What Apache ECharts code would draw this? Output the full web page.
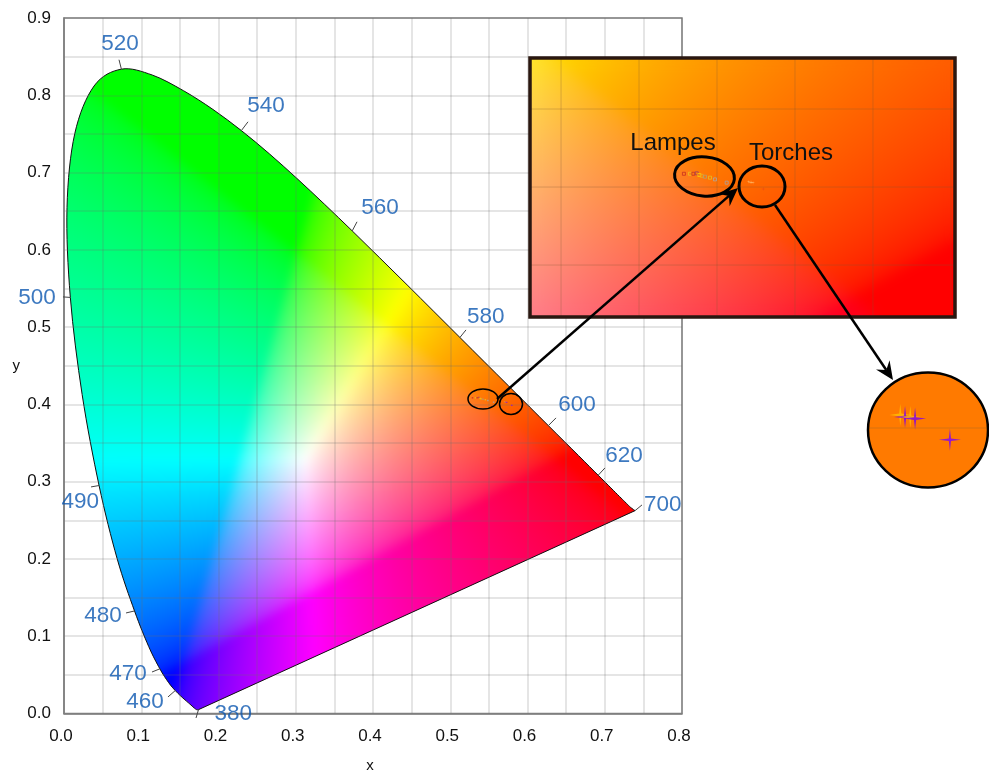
<!DOCTYPE html>
<html><head><meta charset="utf-8">
<style>html,body{margin:0;padding:0;background:#fff}#c{width:989px;height:774px}</style>
<script src="https://cdn.jsdelivr.net/npm/echarts@6/dist/echarts.min.js"></script>
</head><body><div id="c"></div>
<script>
// CIE 1931 spectral locus read as (nm, x, y)
const locusNm=[380,385,390,395,400,405,410,415,420,425,430,435,440,445,450,455,460,465,470,475,480,485,490,495,500,505,510,515,520,525,530,535,540,545,550,555,560,565,570,575,580,585,590,595,600,605,610,615,620,625,630,635,640,645,650,655,660,665,670,680,690,700];
const locusX=[.1741,.1740,.1738,.1736,.1733,.1730,.1726,.1721,.1714,.1703,.1689,.1669,.1644,.1611,.1566,.1510,.1440,.1355,.1241,.1096,.0913,.0687,.0454,.0235,.0082,.0039,.0139,.0389,.0743,.1142,.1547,.1929,.2296,.2658,.3016,.3373,.3731,.4087,.4441,.4788,.5125,.5448,.5752,.6029,.6270,.6482,.6658,.6801,.6915,.7006,.7079,.7140,.7190,.7230,.7260,.7283,.7300,.7311,.7325,.7350,.7370,.7392];
const locusY=[.0050,.0050,.0049,.0049,.0048,.0048,.0048,.0048,.0051,.0058,.0069,.0086,.0109,.0138,.0177,.0227,.0297,.0399,.0578,.0868,.1327,.2007,.2950,.4127,.5384,.6548,.7502,.8120,.8338,.8262,.8059,.7816,.7543,.7243,.6923,.6589,.6245,.5896,.5547,.5202,.4866,.4544,.4242,.3965,.3725,.3514,.3340,.3197,.3083,.2993,.2920,.2859,.2809,.2770,.2740,.2717,.2700,.2689,.2675,.2655,.2640,.2625];
// wavelength annotations
const waveNm=[520,540,560,580,600,620,700,380,460,470,480,490,500];
const waveLabelX=[.0725,.2615,.409,.546,.664,.725,.775,.219,.105,.083,.0505,.021,-.035];
const waveLabelY=[.866,.786,.654,.513,.399,.333,.270,-.001,.015,.051,.127,.274,.538];
const waveTickX=[.0712,.2382,.3793,.5204,.6369,.7003,.7482,.1709,.1346,.1139,.0803,.035,-.0013];
const waveTickY=[.846,.7657,.6363,.4964,.3825,.3178,.2699,-.0058,.0214,.0537,.1301,.2932,.5391];
// measured chromaticities
const lampesX=[.5288,.5327,.5348,.537,.5387,.5402,.5423,.5455,.5487,.5562];
const lampesY=[.4085,.4085,.4085,.4088,.4077,.4072,.4066,.406,.4049,.4028];
const lampesColor=['#c83020','#e8c020','#c83020','#a04060','#ffd000','#e8b020','#b0a070','#e8c020','#a8a8a8','#a8a0a0'];
const torchesX=[.5703,.5712,.5722,.5731,.5797];
const torchesY=[.4034,.4030,.4030,.4027,.3987];
const torchesColor=['#ffc000','#7a00f0','#ffc000','#7a00f0','#7a00ff'];
const xTicks=[0,.8], yTicks=[0,.9];
const insetGridX=[.45,.5,.55,.6,.65,.7], insetGridY=[.35,.4,.45];
const insetX=[.4301,.7026], insetY=[.3167,.4827];
const zoomX=[.5640,.5871], zoomY=[.3896,.4115];

function chroma(x,y){
  if(y<=0.0005) y=0.0005;
  const X=x/y, Z=(1-x-y)/y;
  let r=3.2406*X-1.5372-.4986*Z, g=-.9689*X+1.8758+.0415*Z, b=.0557*X-.2040+1.0570*Z;
  r=Math.max(r,0); g=Math.max(g,0); b=Math.max(b,0);
  const m=Math.max(r,g,b,1e-6);
  const f=c=>255*Math.pow(c/m,1/2);
  return [f(r),f(g),f(b)];
}
function field(xr,yr,w,h,blur){
  const cv=document.createElement('canvas');cv.width=w;cv.height=h;
  const ctx=cv.getContext('2d'),im=ctx.createImageData(w,h);
  for(let j=0;j<h;j++)for(let i=0;i<w;i++){
    const c=chroma(xr[0]+(i+.5)/w*(xr[1]-xr[0]),yr[1]-(j+.5)/h*(yr[1]-yr[0]));
    const k=(j*w+i)*4;im.data[k]=c[0];im.data[k+1]=c[1];im.data[k+2]=c[2];im.data[k+3]=255;
  }
  ctx.putImageData(im,0,0);
  const out=document.createElement('canvas');out.width=w;out.height=h;
  const o=out.getContext('2d');o.drawImage(cv,0,0);o.filter='blur('+blur+'px)';o.drawImage(cv,0,0);
  return out;
}
const mainField=field(xTicks,yTicks,620,700,4), insetField=field(insetX,insetY,425,259,6);
const locusPts=locusNm.map((n,i)=>[locusX[i],locusY[i]]);
const waveIdx=waveNm.map(n=>locusNm.indexOf(n));
const F='"Liberation Sans",Arial,sans-serif';
const GRID='rgba(110,110,110,.24)';

function locusPath(p){ // smooth curve through the tabulated points, closed by the purple line
  let d='M'+p[0][0]+' '+p[0][1];
  for(let i=0;i<p.length-1;i++){
    const a=p[Math.max(i-1,0)],b=p[i],c=p[i+1],e=p[Math.min(i+2,p.length-1)];
    d+='C'+(b[0]+(c[0]-a[0])/6)+' '+(b[1]+(c[1]-a[1])/6)+' '+(c[0]-(e[0]-b[0])/6)+' '+(c[1]-(e[1]-b[1])/6)+' '+c[0]+' '+c[1];
  }
  return d+'Z';
}
function imageSeries(name,cv,xr,yr,xi,z,clip){
  return {type:'custom',name,coordinateSystem:'cartesian2d',xAxisIndex:xi,yAxisIndex:xi,z,silent:true,clip:false,
    data:[[xr[0],yr[0]]],
    renderItem(p,api){
      const a=api.coord([xr[0],yr[1]]),b=api.coord([xr[1],yr[0]]);
      const img={type:'image',style:{image:cv,x:a[0],y:a[1],width:b[0]-a[0],height:b[1]-a[1]}};
      if(!clip) return img;
      const d=locusPath(locusPts.map(q=>api.coord(q)));
      img.clipPath={type:'path',shape:{pathData:d}};
      return {type:'group',children:[img,
        {type:'path',shape:{pathData:d},style:{fill:'none',stroke:'#111',lineWidth:1}}]};
    }};
}
const PLUS='path://M0 -10L1 -1.2L10 0L1 1.2L0 10L-1 1.2L-10 0L-1 -1.2Z';
const series=[
  imageSeries('field',mainField,xTicks,yTicks,0,1,true),
  {type:'custom',name:'wave ticks',coordinateSystem:'cartesian2d',xAxisIndex:0,yAxisIndex:0,z:3,clip:false,silent:true,
    data:waveNm.map((n,i)=>[waveTickX[i],waveTickY[i],locusX[waveIdx[i]],locusY[waveIdx[i]]]),
    renderItem(p,api){const a=api.coord([api.value(0),api.value(1)]),b=api.coord([api.value(2),api.value(3)]);
      return {type:'line',shape:{x1:a[0],y1:a[1],x2:b[0],y2:b[1]},style:{stroke:'#444',lineWidth:1}};}},
  {type:'scatter',name:'wave labels',xAxisIndex:0,yAxisIndex:0,z:4,clip:false,silent:true,symbolSize:0,
    data:waveNm.map((n,i)=>({value:[waveLabelX[i],waveLabelY[i]],name:String(n)})),
    label:{show:true,position:'inside',formatter:'{b}',color:'#0c58b0',fontSize:22.5,fontFamily:F}},
  {type:'scatter',name:'Lampes',xAxisIndex:0,yAxisIndex:0,z:4,silent:true,symbol:'rect',symbolSize:1.5,
    data:lampesX.map((x,i)=>({value:[x,lampesY[i]],itemStyle:{color:lampesColor[i]}}))},
  {type:'scatter',name:'Torches',xAxisIndex:0,yAxisIndex:0,z:4,silent:true,symbol:'rect',symbolSize:1.2,
    data:torchesX.map((x,i)=>({value:[x,torchesY[i]],itemStyle:{color:torchesColor[i]}}))},
  imageSeries('inset',insetField,insetX,insetY,1,5,false),
  {type:'custom',name:'inset grid',coordinateSystem:'cartesian2d',xAxisIndex:1,yAxisIndex:1,z:6,silent:true,
    data:[[insetX[0],insetY[0]]],
    renderItem(p,api){
      const kids=[];
      insetGridX.forEach(v=>{const a=api.coord([v,insetY[0]]),b=api.coord([v,insetY[1]]);
        kids.push({type:'line',shape:{x1:a[0],y1:a[1],x2:b[0],y2:b[1]},style:{stroke:'rgba(130,90,50,.3)',lineWidth:1}});});
      insetGridY.forEach(v=>{const a=api.coord([insetX[0],v]),b=api.coord([insetX[1],v]);
        kids.push({type:'line',shape:{x1:a[0],y1:a[1],x2:b[0],y2:b[1]},style:{stroke:'rgba(130,90,50,.3)',lineWidth:1}});});
      return {type:'group',children:kids};
    }},
  {type:'scatter',name:'Lampes inset',xAxisIndex:1,yAxisIndex:1,z:7,silent:true,symbol:'rect',symbolSize:3,
    data:lampesX.map((x,i)=>({value:[x,lampesY[i]],itemStyle:{color:'none',borderColor:lampesColor[i],borderWidth:1}}))},
  {type:'scatter',name:'Torches inset',xAxisIndex:1,yAxisIndex:1,z:7,silent:true,symbol:PLUS,symbolSize:4,
    data:torchesX.map((x,i)=>({value:[x,torchesY[i]],itemStyle:{color:i==4?'#d84020':'#ffd890'}}))},
  {type:'scatter',name:'Torches zoom',xAxisIndex:2,yAxisIndex:2,z:12,silent:true,symbol:PLUS,symbolSize:22,
    data:torchesX.map((x,i)=>({value:[x,torchesY[i]],itemStyle:{color:torchesColor[i]}}))}
];
const hidden=(g,r)=>({type:'value',gridIndex:g,min:r[0],max:r[1],show:false});
const black={stroke:'#000',fill:'none'};
function arrow(x1,y1,x2,y2){
  const t=Math.atan2(y2-y1,x2-x1),L=20,W=.42,s=L*.6;
  const pt=(d,a)=>[x2-d*Math.cos(t+a),y2-d*Math.sin(t+a)];
  return [
    {type:'line',z:11,shape:{x1,y1,x2:x2-s*Math.cos(t),y2:y2-s*Math.sin(t)},style:{stroke:'#000',lineWidth:2.5}},
    {type:'polygon',z:11,shape:{points:[[x2,y2],pt(L,W),pt(s,0),pt(L,-W)]},style:{fill:'#000'}}
  ];
}
const chart=echarts.init(document.getElementById('c'),null,{renderer:'canvas'});
chart.setOption({
  animation:false,backgroundColor:'#fff',
  grid:[
    {left:64,top:18,width:618,height:695.5,outerBoundsMode:'none',show:true,borderColor:'#808080',borderWidth:1.5,backgroundColor:'#fff',z:0},
    {left:530,top:58,width:425,height:259,outerBoundsMode:'none',show:false},
    {left:867,top:372,width:122,height:116,outerBoundsMode:'none',show:false}
  ],
  xAxis:[
    {type:'value',gridIndex:0,min:xTicks[0],max:xTicks[1],interval:.1,z:2,name:'x',nameLocation:'middle',nameGap:45,
     nameTextStyle:{fontFamily:F,fontSize:15,color:'#111',padding:[0,6,0,0]},
     axisLine:{show:true,onZero:false,lineStyle:{color:'#808080',width:1.5}},axisTick:{show:false},
     axisLabel:{margin:14,fontFamily:F,fontSize:17,color:'#111',padding:[0,6,0,0],formatter:v=>v.toFixed(1)},
     splitLine:{show:true,lineStyle:{color:GRID,width:1.5}},
     minorTick:{show:false,splitNumber:2},minorSplitLine:{show:true,lineStyle:{color:GRID,width:1.5}}},
    hidden(1,insetX),hidden(2,zoomX)
  ],
  yAxis:[
    {type:'value',gridIndex:0,min:yTicks[0],max:yTicks[1],interval:.1,z:2,name:'y',nameLocation:'middle',nameGap:44,nameRotate:0,
     nameTextStyle:{fontFamily:F,fontSize:15,color:'#111'},
     axisLine:{show:true,onZero:false,lineStyle:{color:'#808080',width:1.5}},axisTick:{show:false},
     axisLabel:{margin:13,fontFamily:F,fontSize:17,color:'#111',padding:[8,0,0,0],formatter:v=>v.toFixed(1)},
     splitLine:{show:true,lineStyle:{color:GRID,width:1.5}},
     minorTick:{show:false,splitNumber:2},minorSplitLine:{show:true,lineStyle:{color:GRID,width:1.5}}},
    hidden(1,insetY),hidden(2,zoomY)
  ],
  series,
  graphic:{elements:[
    {type:'rect',z:8,shape:{x:530,y:58,width:425,height:259},style:{stroke:'#2a1710',fill:'none',lineWidth:3.5}},
    {type:'ellipse',z:9,shape:{cx:483,cy:399,rx:15,ry:10},style:{...black,lineWidth:1.5}},
    {type:'ellipse',z:9,shape:{cx:511,cy:404,rx:11.5,ry:10.5},style:{...black,lineWidth:1.5}},
    {type:'ellipse',z:9,shape:{cx:0,cy:0,rx:30,ry:19.5},x:704.5,y:176.5,rotation:-.09,style:{...black,lineWidth:3}},
    {type:'ellipse',z:9,shape:{cx:762,cy:186.5,rx:23,ry:20.5},style:{...black,lineWidth:3}},
    {type:'ellipse',z:9,shape:{cx:928,cy:430,rx:60,ry:57.5},style:{fill:'#ff7a00',stroke:'#000',lineWidth:2.5}},
    {type:'line',z:10,shape:{x1:869,y1:428,x2:987,y2:428},style:{stroke:'rgba(140,100,50,.35)',lineWidth:1}},
    {type:'text',z:10,style:{x:673,y:143,text:'Lampes',align:'center',verticalAlign:'middle',font:'24px '+F,fill:'#111'}},
    {type:'text',z:10,style:{x:791,y:153,text:'Torches',align:'center',verticalAlign:'middle',font:'24px '+F,fill:'#111'}},
    ...arrow(497,399,738,188),
    ...arrow(775,205,893,380)
  ]}
});
</script></body></html>
